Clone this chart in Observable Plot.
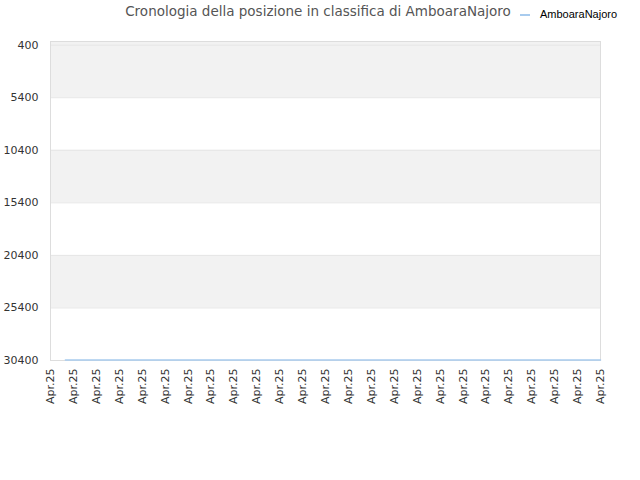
<!DOCTYPE html>
<html><head><meta charset="utf-8">
<script src="https://cdn.jsdelivr.net/npm/d3@7"></script>
<script src="https://cdn.jsdelivr.net/npm/@observablehq/plot@0.6"></script>
<style>
body{margin:0;background:#fff;font-family:"DejaVu Sans",sans-serif;}
#head{position:relative;height:30px;width:640px;}
#title{position:absolute;left:0;width:636px;top:3px;text-align:center;font-size:13.5px;color:#555;}
#legend{position:absolute;left:520px;top:8px;font-family:"Liberation Sans",sans-serif;font-size:11px;color:#000;}
#legend span.sw{display:inline-block;width:10px;height:2px;background:#a8cbee;vertical-align:middle;margin-right:10px;}
</style></head>
<body>
<div id="head"><div id="title">Cronologia della posizione in classifica di AmboaraNajoro</div>
<div id="legend"><span class="sw"></span>AmboaraNajoro</div></div>
<div id="chart"></div>
<script>
const seriesName = "AmboaraNajoro";
const tickLabels = ["Apr.25","Apr.25","Apr.25","Apr.25","Apr.25","Apr.25","Apr.25","Apr.25","Apr.25","Apr.25","Apr.25","Apr.25","Apr.25","Apr.25","Apr.25","Apr.25","Apr.25","Apr.25","Apr.25","Apr.25","Apr.25","Apr.25","Apr.25","Apr.25","Apr.25"];
const obsPos = [0.65, 4, 8, 12, 16, 20, 24];
const obsRank = [30350, 30350, 30350, 30350, 30350, 30350, 30350];
const yTicks = [400, 5400, 10400, 15400, 20400, 25400, 30400];
const bandStart = [50, 10400, 20400];
const bandEnd = [5400, 15400, 25400];

const data = obsPos.map((p, i) => ({x: p, rank: obsRank[i]}));
const bands = bandStart.map((s, i) => ({y1: s, y2: bandEnd[i]}));

const chart = Plot.plot({
  width: 640, height: 450,
  marginTop: 11, marginBottom: 120, marginLeft: 50, marginRight: 40,
  style: {fontFamily: "DejaVu Sans, sans-serif", fontSize: "11px", color: "#333"},
  x: {domain: [0, tickLabels.length - 1], ticks: d3.range(tickLabels.length), tickFormat: i => tickLabels[i], tickRotate: -90, tickSize: 0, tickPadding: 8, label: null},
  y: {domain: [50, 30400], reverse: true, ticks: yTicks, tickFormat: d => String(d), tickSize: 0, tickPadding: 12, label: null},
  marks: [
    Plot.rectY(bands, {x1: 0, x2: tickLabels.length - 1, y1: "y1", y2: "y2", fill: "#f2f2f2"}),
    Plot.gridY(yTicks, {stroke: "#e6e6e6", strokeOpacity: 1}),
    Plot.frame({stroke: "#dddddd"}),
    Plot.line(data, {x: "x", y: "rank", stroke: "#a8cbee", strokeWidth: 1.5}),
    Plot.axisX({ticks: d3.range(tickLabels.length), tickFormat: i => tickLabels[i], tickRotate: -90, tickSize: 0, tickPadding: 8, fill: "#333"}),
    Plot.axisY({ticks: yTicks, tickFormat: d => String(d), tickSize: 0, tickPadding: 12, fill: "#333"})
  ]
});
document.getElementById("chart").appendChild(chart);
</script>
</body></html>
